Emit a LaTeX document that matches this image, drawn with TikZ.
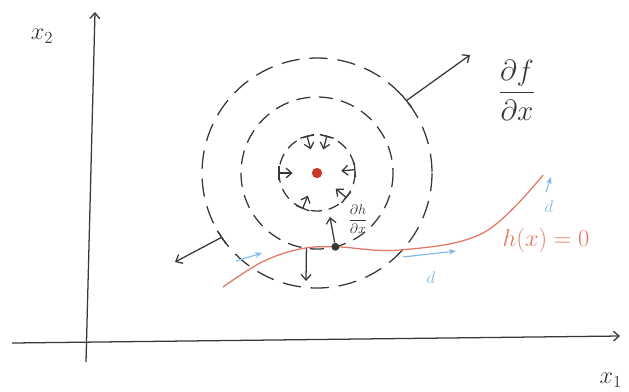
\documentclass[tikz,border=0pt]{standalone}
\usepackage{tikz}
\definecolor{penink}{RGB}{55,55,55}
\definecolor{curvered}{RGB}{226,120,100}
\definecolor{dotred}{RGB}{200,55,40}
\definecolor{dirblue}{RGB}{130,185,230}
\usetikzlibrary{arrows.meta,calc}

\begin{document}
\begin{tikzpicture}[
    x=0.025cm, y=-0.025cm,
    ink/.style={draw=penink, line width=0.9pt},
    level/.style={ink, dash pattern=on 10pt off 6pt},
    arr/.style={ink, -{Straight Barb[length=4pt,width=7pt]}},
    dirarr/.style={draw=dirblue, line width=0.8pt, -{Stealth[length=5pt,width=4pt]}},
    hand/.style={text=penink, inner sep=1pt}
  ]
    \useasboundingbox (0,0) rectangle (629,391);

    % Axes
    \coordinate (orig) at (86,362);
    \coordinate (ytip) at (95,12);
    \coordinate (xstart) at (12,343);
    \coordinate (xtip) at (620,336);
    \draw[arr] (orig) -- (ytip);
    \draw[arr] (xstart) -- (xtip);
    \node[hand, font=\LARGE] (xtwo) at (42,36) {$x_2$};
    \node[hand, font=\LARGE, anchor=west] (xone) at (598,380) {$x_1$};

    % Level sets of f
    \coordinate (c) at (317,173);
    \draw[level, dash pattern=on 8pt off 5pt] (c) circle[radius=38];
    \draw[level] (c) circle[radius=76];
    \draw[level, dash pattern=on 13pt off 7pt] (c) circle[radius=115];
    \node[circle, fill=dotred, inner sep=2.6pt] (fmin) at (c) {};

    % Inner gradient arrows
    \foreach \a [count=\i] in {-105,-75,-5,40,112,180} {
      \coordinate (in\i) at ($(c)+(\a:38)$);
      \draw[ink] ($(in\i)!0.18cm!90:(c)$) -- ($(in\i)!0.18cm!-90:(c)$);
      \draw[arr] (in\i) -- ($(in\i)!0.34cm!(c)$);
    }

    % Outer gradient arrows
    \coordinate (ne) at ($(c)+(-39:115)$);
    \coordinate (netip) at (470,55);
    \draw[ink] ($(ne)!0.2cm!90:(c)$) -- ($(ne)!0.2cm!-90:(c)$);
    \draw[arr] (ne) -- (netip);
    \coordinate (sw) at ($(c)+(146:115)$);
    \coordinate (swtip) at (175,262);
    \draw[ink] ($(sw)!0.2cm!90:(c)$) -- ($(sw)!0.2cm!-90:(c)$);
    \draw[arr] (sw) -- (swtip);
    \node[hand, font=\fontsize{21}{25}\selectfont] (dfdx) at (517,90)
      {$\displaystyle\frac{\partial f}{\partial x}$};

    % Constraint curve h(x)=0
    \coordinate (p) at ($(c)+(76:76)$);
    \draw[curvered, line width=0.9pt] plot[smooth, tension=0.6] coordinates
      {(223,287) (262,262) (300,249) (p) (400,250) (483,233) (543,175)};
    \node[hand, text=curvered, font=\LARGE] (hlab) at (546,240) {$h(x)=0$};

    % Middle level set: arrow at the tangent point
    \coordinate (mb) at ($(c)+(98:76)$);
    \coordinate (mbtip) at (306,281);
    \draw[arr] (mb) -- (mbtip);

    % Gradient of h at the touching point
    \node[circle, fill=penink, inner sep=2pt] (pdot) at (p) {};
    \coordinate (ptip) at (330,217);
    \draw[arr] (pdot) -- (ptip);
    \node[hand, font=\normalsize] (dhdx) at (358,219)
      {$\displaystyle\frac{\partial h}{\partial x}$};

    % Directions d
    \coordinate (d1a) at (236,261);
    \coordinate (d1b) at (262,253);
    \draw[dirarr] (d1a) -- (d1b);
    \coordinate (d2a) at (403,257);
    \coordinate (d2b) at (456,251);
    \draw[dirarr] (d2a) -- (d2b);
    \node[hand, text=dirblue, font=\large] (d2lab) at (431,278) {$d$};
    \coordinate (d3a) at (546,192);
    \coordinate (d3b) at (551,177);
    \draw[dirarr] (d3a) -- (d3b);
    \node[hand, text=dirblue, font=\large] (d3lab) at (549,207) {$d$};
  \end{tikzpicture}
\end{document}
